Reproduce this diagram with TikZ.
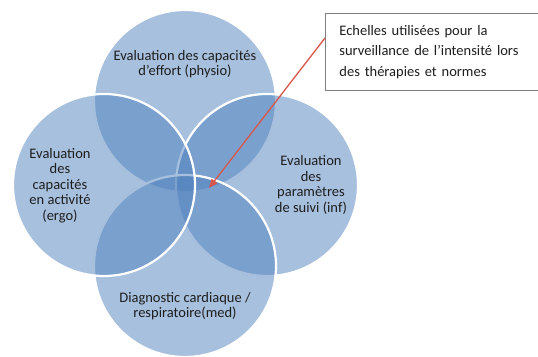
\documentclass[tikz,border=0pt]{standalone}
\usepackage{fontspec}
\setmainfont{Carlito}
\usetikzlibrary{arrows.meta}
\definecolor{venn}{HTML}{4F81BD}
\definecolor{arrowred}{HTML}{D9574A}
\definecolor{boxgray}{HTML}{7F7F7F}
\definecolor{txt}{HTML}{1E1E1E}
\begin{document}
\begin{tikzpicture}[x=1pt,y=-1pt,
  vcircle/.style={fill=venn,fill opacity=0.5,draw=white,line width=2.2pt},
  vtext/.style={align=center,text=txt,font=\fontsize{14.5}{15.5}\selectfont,inner sep=0pt},
  notebox/.style={draw=boxgray,line width=0.9pt,fill=white,anchor=north west,align=left,
    text width=186pt,inner xsep=14pt,minimum height=77pt,text=txt,
    font=\fontsize{14.5}{20.5}\selectfont},
  callout/.style={draw=arrowred,line width=1.3pt,-{Triangle[length=9pt,width=7pt]}}]
\useasboundingbox (0,0) rectangle (538,356);
% circles: top, right, bottom, left (drawing order)
\path[vcircle] (185,101) circle (91);
\path[vcircle] (267,185) circle (91);
\path[vcircle] (185,266) circle (91);
\path[vcircle] (104,185) circle (91);
% texts
\node[vtext] (ttop) at (185,64) {Evaluation des capacités\\d{\char"0027}effort (physio)};
\node[vtext] (tleft) at (60,185.5) {Evaluation\\des\\capacités\\en activité\\(ergo)};
\node[vtext] (tright) at (311,185) {Evaluation\\des\\paramètres\\de suivi (inf)};
\node[vtext] (tbottom) at (185,306) {Diagnostic cardiaque /\\respiratoire(med)};
% note box
\node[notebox] (box) at (325,13) {Echelles utilisées pour la\\surveillance de l’intensité lors\\des thérapies et normes};
\coordinate (start) at (325,38);
\coordinate (tip) at (209,188);
\draw[callout] (start) -- (tip);
\end{tikzpicture}
\end{document}
